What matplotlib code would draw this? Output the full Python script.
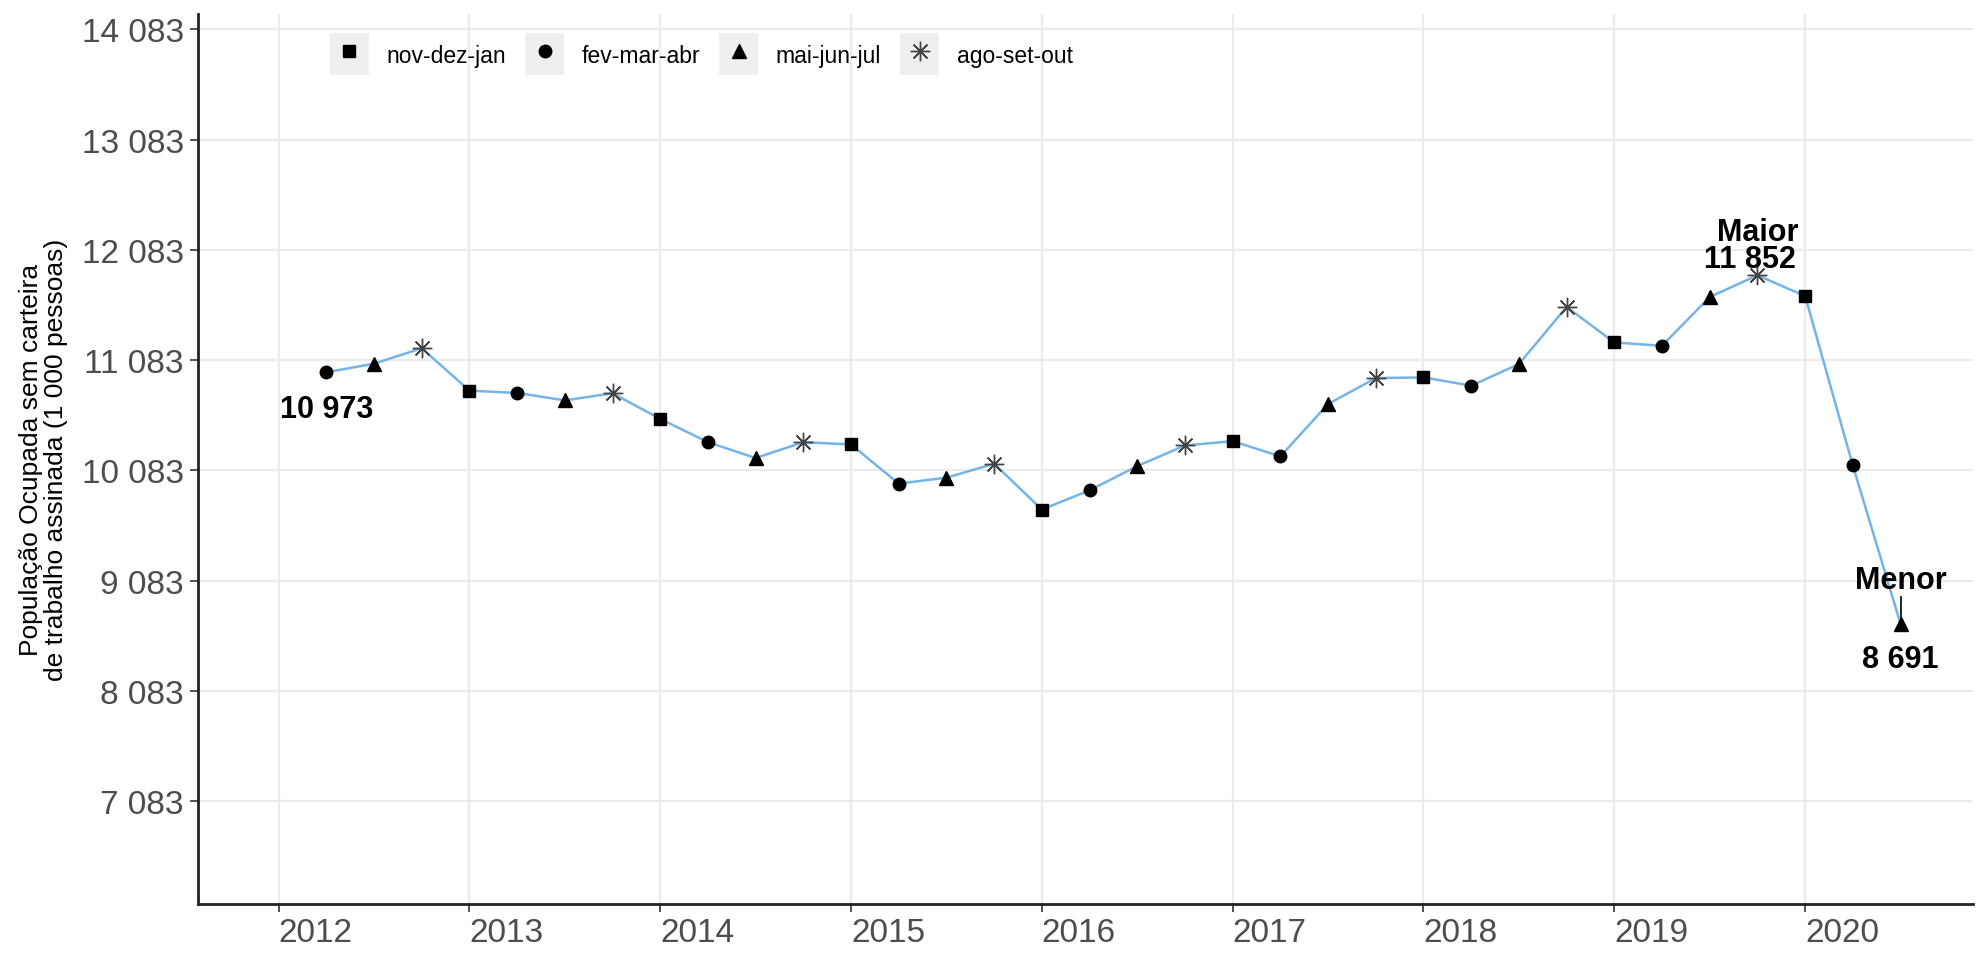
import numpy as np
import matplotlib.pyplot as plt
from matplotlib.patches import Rectangle
from matplotlib.legend_handler import HandlerLine2D
from matplotlib.lines import Line2D

plt.rcParams['font.family'] = ['Liberation Sans', 'DejaVu Sans']

# trimestres moveis (inicio em fev-mar-abr 2012)
x = [2012.25, 2012.5, 2012.75, 2013.0, 2013.25, 2013.5, 2013.75, 2014.0,
     2014.25, 2014.5, 2014.75, 2015.0, 2015.25, 2015.5, 2015.75, 2016.0,
     2016.25, 2016.5, 2016.75, 2017.0, 2017.25, 2017.5, 2017.75, 2018.0,
     2018.25, 2018.5, 2018.75, 2019.0, 2019.25, 2019.5, 2019.75, 2020.0,
     2020.25, 2020.5]
pop = [10973, 11050, 11191, 10806, 10785, 10718, 10782, 10550,
       10339, 10195, 10339, 10318, 9963, 10017, 10143, 9728,
       9902, 10122, 10309, 10348, 10210, 10685, 10920, 10926,
       10851, 11047, 11565, 11243, 11213, 11655, 11852, 11664,
       10128, 8691]
trimestre = ['fev-mar-abr', 'mai-jun-jul', 'ago-set-out', 'nov-dez-jan'] * 8 + ['fev-mar-abr', 'mai-jun-jul']

grupos = ['nov-dez-jan', 'fev-mar-abr', 'mai-jun-jul', 'ago-set-out']
marcas = {'nov-dez-jan': 's', 'fev-mar-abr': 'o', 'mai-jun-jul': '^', 'ago-set-out': (8, 2, 0)}
tam = {'nov-dez-jan': 8, 'fev-mar-abr': 9, 'mai-jun-jul': 10, 'ago-set-out': 14}

yticks = [7083, 8083, 9083, 10083, 11083, 12083, 13083, 14083]
xticks = [2012, 2013, 2014, 2015, 2016, 2017, 2018, 2019, 2020]


def fmt(v):
    return f'{v:,}'.replace(',', ' ')


class KeyBox(HandlerLine2D):
    def create_artists(self, legend, orig_handle, xdescent, ydescent, width, height, fontsize, trans):
        arts = super().create_artists(legend, orig_handle, xdescent, ydescent, width, height, fontsize, trans)
        r = Rectangle((-xdescent, -ydescent - 0.25 * height), width, height * 1.5,
                      facecolor='#EFEFEF', edgecolor='none', transform=trans)
        return [r] + arts


fig = plt.figure(figsize=(19.77, 9.54), dpi=100)
ax = fig.add_axes([0.1, 0.051, 0.898, 0.933])

ax.plot(x, pop, color='#74B4E6', lw=1.8, zorder=2)
x = np.array(x)
pop = np.array(pop)
trimestre = np.array(trimestre)
handles = []
for g in grupos:
    m = trimestre == g
    if g == 'ago-set-out':
        ax.plot(x[m], pop[m], ls='none', marker=marcas[g], ms=tam[g], mec='#444444', mew=1.0, zorder=3)
        h = Line2D([], [], ls='none', marker=marcas[g], ms=tam[g], mec='#444444', mew=1.0)
    else:
        ax.plot(x[m], pop[m], ls='none', marker=marcas[g], ms=tam[g], color='black', mec='black', zorder=3)
        h = Line2D([], [], ls='none', marker=marcas[g], ms=tam[g], color='black', mec='black')
    handles.append(h)

# rotulos
i0 = 0
imax = int(np.argmax(pop))
imin = int(np.argmin(pop))
fs = 22
ax.text(x[i0], pop[i0] - 330, fmt(pop[i0]), ha='center', va='center', fontsize=fs, fontweight='bold')
ax.text(x[imax], pop[imax] + 395, 'Maior', ha='center', va='center', fontsize=fs, fontweight='bold')
ax.text(x[imax] - 0.04, pop[imax] + 150, fmt(pop[imax]), ha='center', va='center', fontsize=fs, fontweight='bold')
ax.text(x[imin], pop[imin] + 400, 'Menor', ha='center', va='center', fontsize=fs, fontweight='bold')
ax.plot([x[imin], x[imin]], [pop[imin] + 60, pop[imin] + 240], color='black', lw=1.2)
ax.text(x[imin], pop[imin] - 320, fmt(pop[imin]), ha='center', va='center', fontsize=fs, fontweight='bold')

ax.set_xlim(2011.576, 2020.88)
ax.set_ylim(6148, 14219)
ax.set_xticks(xticks)
ax.set_xticklabels([str(t) for t in xticks], ha='left')
ax.set_yticks(yticks)
ax.set_yticklabels([fmt(t) for t in yticks])
ax.tick_params(labelsize=24, labelcolor='#4D4D4D', color='#333333', length=6, width=1.2)
ax.tick_params(axis='y', pad=4)
ax.tick_params(axis='x', pad=3)
ax.grid(True, color='#EBEBEB', lw=1.6)
ax.set_axisbelow(True)
for s in ['top', 'right']:
    ax.spines[s].set_visible(False)
for s in ['left', 'bottom']:
    ax.spines[s].set_linewidth(2.0)
    ax.spines[s].set_color('#222222')

ax.set_ylabel('População Ocupada sem carteira\nde trabalho assinada (1 000 pessoas)', fontsize=19,
              linespacing=1.05)
ax.yaxis.set_label_coords(-0.073, 0.5)

ax.legend(handles, grupos, loc='upper left', bbox_to_anchor=(0.068, 0.984), ncol=4, frameon=False,
          fontsize=16.5, handlelength=1.7, handleheight=1.5, handletextpad=0.75, columnspacing=0.85,
          borderpad=0, handler_map={Line2D: KeyBox()})

fig.savefig('out.png', dpi=100)
